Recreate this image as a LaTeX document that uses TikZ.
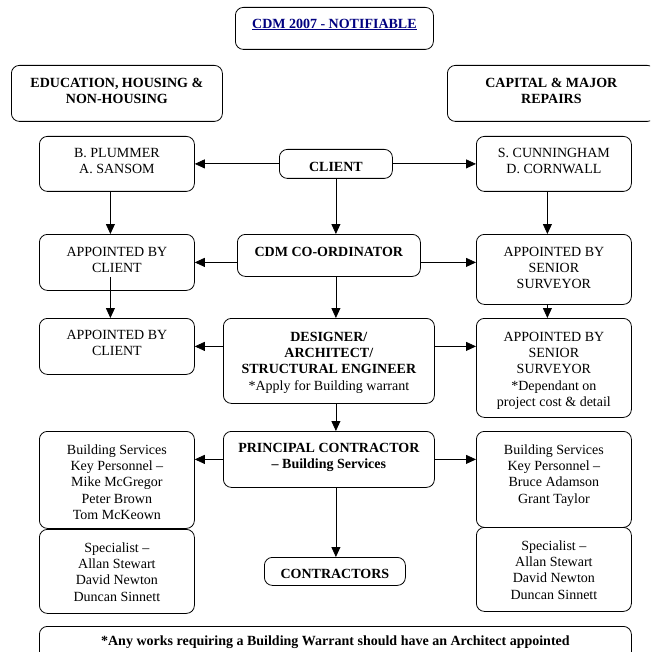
\documentclass[tikz,border=0pt]{standalone}
\usepackage{fontspec}
\setmainfont{Liberation Serif}
\usetikzlibrary{arrows.meta}
\definecolor{titleblue}{HTML}{000080}
% #1 = offset of first line centre from top, #2 = width, #3 = height, #4 = text
\newcommand{\bxtext}[4][17]{\parbox[c][#3pt][t]{#2pt}{\fontsize{14}{16.3}\selectfont\centering\vspace*{\dimexpr#1pt+4.7pt-11.41pt\relax}\strut#4\par}}
\tikzset{
  box/.style={draw, line width=0.8pt, rounded corners=8pt, inner sep=0pt, anchor=north west},
  arr/.style={draw, line width=0.8pt, -{Triangle[length=10pt,width=9pt]}}
}
\begin{document}
\begin{tikzpicture}[x=1pt,y=-1pt]
\clip (0,0) rectangle (650,652);
\fill[white] (0,0) rectangle (650,652);
% headers
\node[box] (title) at (235,7) {\bxtext[16]{198}{42}{\textcolor{titleblue}{\underline{\textbf{CDM 2007 - NOTIFIABLE}}}}};
\node[box] (headL) at (11,65) {\bxtext[17]{211}{56}{\textbf{EDUCATION, HOUSING \&}\\\textbf{NON-HOUSING}}};
\node[box] (headR) at (447,65) {\bxtext[17]{208}{56}{\textbf{CAPITAL \& MAJOR}\\\textbf{REPAIRS}}};
% row 1
\node[box] (plummer) at (39,136) {\bxtext[16]{155}{55}{B. PLUMMER\\A. SANSOM}};
\node[box] (client) at (279,149) {\bxtext[17]{113}{29}{\textbf{CLIENT}}};
\node[box] (cunn) at (476,136) {\bxtext[16]{155}{55}{S. CUNNINGHAM\\D. CORNWALL}};
% row 2
\node[box] (appL1) at (39,234) {\bxtext[17]{155}{56}{APPOINTED BY\\CLIENT}};
\node[box] (coord) at (237,234) {\bxtext[17]{183}{42}{\textbf{CDM CO-ORDINATOR}}};
\node[box] (appR1) at (476,234) {\bxtext[17]{155}{70}{APPOINTED BY\\SENIOR\\SURVEYOR}};
% row 3
\node[box] (appL2) at (39,318) {\bxtext[16]{155}{56}{APPOINTED BY\\CLIENT}};
\node[box] (designer) at (223,318) {\bxtext[18]{211}{85}{\textbf{DESIGNER/}\\\textbf{ARCHITECT/}\\\textbf{STRUCTURAL ENGINEER}\\{}*Apply for Building warrant}};
\node[box] (appR2) at (476,318) {\bxtext[18]{155}{99}{APPOINTED BY\\SENIOR\\SURVEYOR\\{}*Dependant on\\project cost \& detail}};
% row 4
\node[box] (bsL) at (39,431) {\bxtext[18]{155}{97}{Building Services\\Key Personnel \textendash\\Mike McGregor\\Peter Brown\\Tom McKeown}};
\node[box] (princ) at (223,431) {\bxtext[16]{211}{56}{\textbf{PRINCIPAL CONTRACTOR}\\\textbf{\textendash\ Building Services}}};
\node[box] (bsR) at (476,431) {\bxtext[18]{155}{96}{Building Services\\Key Personnel \textendash\\Bruce Adamson\\Grant Taylor}};
% row 5
\node[box] (specL) at (39,529) {\bxtext[18]{155}{84}{Specialist \textendash\\Allan Stewart\\David Newton\\Duncan Sinnett}};
\node[box] (contr) at (264,557) {\bxtext[16]{141}{28}{\textbf{CONTRACTORS}}};
\node[box] (specR) at (476,527) {\bxtext[18]{155}{84}{Specialist \textendash\\Allan Stewart\\David Newton\\Duncan Sinnett}};
% note
\node[box] (note) at (39,626) {\bxtext[14]{592}{40}{\textbf{*Any works requiring a Building Warrant should have an Architect appointed}}};
% connectors
\draw[arr] (client.west) -- (plummer.east);
\draw[arr] (client.east) -- (cunn.west);
\draw[arr] (client.south) -- (coord.north -| client.south);
\draw[arr] ([xshift=-6.5pt]plummer.south) -- ([xshift=-6.5pt]appL1.north);
\draw[arr] ([xshift=-6.5pt]cunn.south) -- ([xshift=-6.5pt]appR1.north);
\draw[arr] (coord.west |- appL1.east) -- (appL1.east);
\draw[arr] (coord.east |- appL1.east) -- (appR1.west |- appL1.east);
\draw[arr] (coord.south -| client.south) -- (designer.north -| client.south);
\draw[arr] ([xshift=-6.5pt,yshift=14pt]appL1.south) -- ([xshift=-6.5pt]appL2.north);
\draw[arr] ([xshift=-6.5pt]appR1.south) -- ([xshift=-6.5pt]appR2.north);
\draw[arr] (designer.west |- appL2.east) -- (appL2.east);
\draw[arr] (designer.east |- appL2.east) -- (appR2.west |- appL2.east);
\draw[arr] (designer.south -| client.south) -- (princ.north -| client.south);
\draw[arr] (princ.west) -- (bsL.east |- princ.west);
\draw[arr] (princ.east) -- (bsR.west |- princ.east);
\draw[arr] (princ.south -| client.south) -- (contr.north -| client.south);
\end{tikzpicture}
\end{document}
